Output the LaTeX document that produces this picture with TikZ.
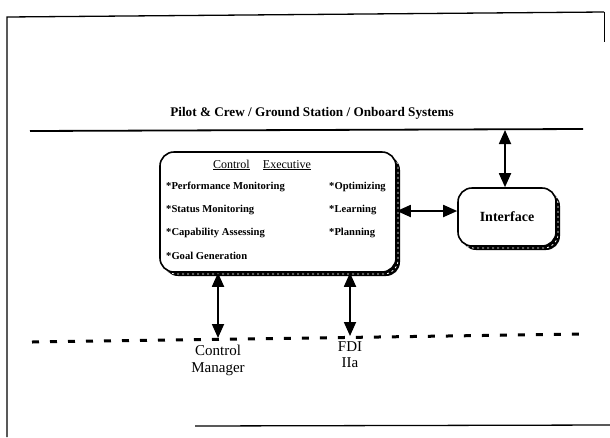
\documentclass[tikz,border=0pt]{standalone}
\usepackage{fontspec}
\setmainfont{Liberation Serif}
\usetikzlibrary{arrows.meta}

\tikzset{
  frameline/.style={line width=1.3pt},
  busline/.style={line width=1.8pt},
  dashline/.style={line width=3pt, dash pattern=on 7pt off 11pt},
  roundbox/.style={draw, line width=1.6pt, fill=white, rounded corners=14pt, inner sep=0pt},
  duplex/.style={line width=1.8pt, {Triangle[length=14pt,width=12pt]}-{Triangle[length=14pt,width=12pt]}},
  itemtext/.style={font=\fontsize{10.6}{12}\selectfont\bfseries, anchor=west, inner sep=0pt},
  labeltext/.style={font=\fontsize{15}{17}\selectfont, align=center, inner sep=0pt}
}

% draws a rounded box with a heavy drop shadow on its right and bottom
\newcommand{\shadedbox}[5]{% name, x, y, width, height
  \fill[rounded corners=14pt] ({#2-#4/2+4},{#3-#5/2+4}) rectangle ({#2+#4/2+4},{#3+#5/2+4});
  \draw[white, line width=0.8pt, dash pattern=on 2pt off 3pt, rounded corners=14pt]
    ({#2-#4/2+2},{#3-#5/2+2}) rectangle ({#2+#4/2+2},{#3+#5/2+2});
  \node[roundbox, minimum width=#4pt, minimum height=#5pt] (#1) at (#2,#3) {};
}

\begin{document}
\begin{tikzpicture}[x=1pt, y=-1pt]
  \useasboundingbox (0,0) rectangle (610,437);

  % outer frame (partly lost at the right and bottom)
  \coordinate (fTL) at (7,17);
  \coordinate (fTR) at (604,12);
  \coordinate (fRB) at (604,42);
  \coordinate (fBL) at (7,437);
  \coordinate (fB1) at (195,426);
  \coordinate (fB2) at (610,425);
  \draw[frameline] (fBL) -- (fTL) -- (fTR);
  \draw[line width=0.8pt] (fTR) -- (fRB);
  \draw[frameline] (fB1) -- (fB2);

  % upper bus: operators and onboard systems
  \node[font=\fontsize{13.2}{15}\selectfont\bfseries, inner sep=0pt] (title) at (312,113)
    {Pilot \& Crew / Ground Station / Onboard Systems};
  \coordinate (busL) at (30,131);
  \coordinate (busR) at (583,129);
  \draw[busline] (busL) -- (busR);

  % lower dashed bus
  \coordinate (dashL) at (32,342);
  \coordinate (dashR) at (586,334);
  \draw[dashline] (dashL) -- (dashR);

  % main boxes
  \shadedbox{exec}{278}{212}{236}{120}
  \shadedbox{iface}{507}{217}{98}{58}

  \node[font=\fontsize{12}{14}\selectfont, inner sep=0pt] (exectitle) at (262,165)
    {\underline{Control}\hspace{1.1em}\underline{Executive}};
  \node[itemtext] (i1) at (166,187) {*Performance Monitoring};
  \node[itemtext] (i2) at (166,210) {*Status Monitoring};
  \node[itemtext] (i3) at (166,233) {*Capability Assessing};
  \node[itemtext] (i4) at (166,256) {*Goal Generation};
  \node[itemtext] (i5) at (329,187) {*Optimizing};
  \node[itemtext] (i6) at (329,210) {*Learning};
  \node[itemtext] (i7) at (329,233) {*Planning};

  \node[font=\fontsize{14}{16}\selectfont\bfseries, inner sep=0pt] (ifacetext) at (iface) {Interface};

  % connectors
  \coordinate (busTap) at (505,130);
  \draw[duplex] (busTap) -- (busTap |- iface.north);
  \draw[duplex] (exec.east |- 0,211) -- (iface.west |- 0,211);

  \coordinate (cmTip) at (218,338);
  \coordinate (fdiTip) at (350,336);
  \draw[duplex] (cmTip |- exec.south) -- (cmTip);
  \draw[duplex] (fdiTip |- exec.south) -- (fdiTip);

  \node[labeltext, anchor=north] (cm) at (218,345) {Control\\[0pt]Manager};
  \node[labeltext, anchor=north] (fdi) at (350,341) {FDI\\[-1pt]IIa};
\end{tikzpicture}
\end{document}
